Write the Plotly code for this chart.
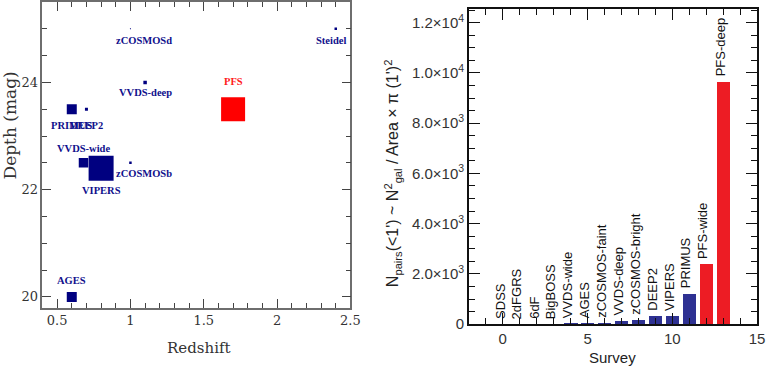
import plotly.graph_objects as go

# ---------------- data: left panel (redshift vs depth) ----------------
surveys_left = ["zCOSMOSd", "Steidel", "VVDS-deep", "PFS", "PRIMUS", "DEEP2",
                "VVDS-wide", "zCOSMOSb", "VIPERS", "AGES"]
redshift = [1.0, 2.4, 1.1, 1.7, 0.6, 0.7, 0.68, 1.0, 0.8, 0.6]
depth = [25.0, 25.0, 24.0, 23.5, 23.5, 23.5, 22.5, 22.5, 22.4, 20.0]
marker_px = [1, 2.5, 3.5, 24, 10, 3, 9.5, 2.5, 25, 10]
left_colors = ["#000080", "#000080", "#000080", "#ff0000", "#000080", "#000080",
               "#000080", "#000080", "#000080", "#000080"]
# label offsets in pixels (style)
lab_dx = [14, -5, 0, 0, 0, 0, 0, 14, 0, 0]
lab_dy = [-12, -12, -10, 28, -16, -16, 14, -11, -22, 16]

# ---------------- data: right panel (pair counts) ----------------
survey_idx = list(range(14))
survey_names = ["SDSS", "2dFGRS", "6dF", "BigBOSS", "VVDS-wide", "AGES",
                "zCOSMOS-faint", "VVDS-deep", "zCOSMOS-bright", "DEEP2",
                "VIPERS", "PRIMUS", "PFS-wide", "PFS-deep"]
npairs = [0, 0, 0, 0, 20, 20, 35, 140, 190, 330, 340, 1220, 2400, 9650]
bar_colors = ["#2e3192"] * 12 + ["#ed1c24"] * 2

ytick_vals = [0, 2000, 4000, 6000, 8000, 10000, 12000]
ytick_text = ["0", "2.0×10<sup>3</sup>", "4.0×10<sup>3</sup>", "6.0×10<sup>3</sup>",
              "8.0×10<sup>3</sup>", "1.0×10<sup>4</sup>", "1.2×10<sup>4</sup>"]

W, H = 775, 374
SERIF = "DejaVu Serif"
LSERIF = "Liberation Serif"
SANS = "Liberation Sans, Arial, sans-serif"

fig = go.Figure()

fig.add_trace(go.Scatter(
    x=redshift, y=depth, mode="markers",
    marker=dict(symbol="square", size=marker_px, color=left_colors, opacity=1, line=dict(width=0)),
    xaxis="x", yaxis="y", showlegend=False, hoverinfo="skip"))

fig.add_trace(go.Bar(
    x=survey_idx, y=npairs, width=0.8, marker=dict(color=bar_colors, line=dict(width=0)),
    xaxis="x2", yaxis="y2", showlegend=False))

annotations = []
for name, xv, yv, c, dx, dy in zip(surveys_left, redshift, depth, left_colors, lab_dx, lab_dy):
    annotations.append(dict(x=xv, y=yv, xref="x", yref="y", text="<b>" + name + "</b>", showarrow=False,
                            xshift=dx, yshift=dy, xanchor="center", yanchor="middle",
                            font=dict(family=LSERIF, size=10.5, color="#10108c" if c != "#ff0000" else "#ff1a1a")))

for xi, name, v in zip(survey_idx, survey_names, npairs):
    annotations.append(dict(x=xi, y=v, xref="x2", yref="y2", text=name, showarrow=False,
                            textangle=-90, xanchor="center", yanchor="bottom",
                            xshift=-3, yshift=3,
                            font=dict(family=SANS, size=13, color="#111111")))

# axis titles
annotations += [
    dict(x=202 / W, y=1 - 355 / H, xref="paper", yref="paper", text="Redshift", showarrow=False,
         xanchor="center", yanchor="middle", font=dict(family=SERIF, size=15, color="#333")),
    dict(x=10 / W, y=1 - 127 / H, xref="paper", yref="paper", text="Depth (mag)", showarrow=False,
         textangle=-90, xanchor="center", yanchor="middle", font=dict(family=SERIF, size=17, color="#333")),
    dict(x=620 / W, y=1 - 365 / H, xref="paper", yref="paper", text="Survey", showarrow=False,
         xanchor="center", yanchor="middle", font=dict(family=SANS, size=15, color="#222")),
    dict(x=398 / W, y=1 - 176 / H, xref="paper", yref="paper",
         text="N<sub>pairs</sub>(&lt;1') ~ N<sup>2</sup><sub>gal</sub> / Area × π (1')<sup>2</sup>",
         showarrow=False, textangle=-90, xanchor="center", yanchor="middle",
         font=dict(family=SANS, size=16, color="#222")),
]

left_axis_common = dict(showgrid=False, zeroline=False, showline=True, mirror="allticks",
                        linecolor="#6e6e6e", linewidth=1.5, ticks="inside", tickcolor="#444",
                        tickwidth=1.2, tickfont=dict(family=SERIF, size=13, color="#333"))
right_axis_common = dict(showgrid=False, zeroline=False, showline=True, mirror="allticks",
                         linecolor="#111", linewidth=1.5, ticks="inside", tickcolor="#111",
                         tickwidth=1.2, tickfont=dict(family=SANS, size=15, color="#333"),
                         ticklabeloverflow="allow")

fig.update_layout(
    width=W, height=H, margin=dict(l=0, r=0, t=0, b=0),
    paper_bgcolor="white", plot_bgcolor="white", bargap=0,
    xaxis=dict(domain=[43 / W, 355 / W], range=[0.4, 2.5], anchor="y",
               tickvals=[0.5, 1, 1.5, 2, 2.5], ticktext=["0.5", "1", "1.5", "2", "2.5"], ticklen=9,
               minor=dict(dtick=0.1, tick0=0, ticks="inside", ticklen=5, tickcolor="#444"),
               **left_axis_common),
    yaxis=dict(domain=[1 - 314 / H, 1.0], range=[19.8, 25.5], anchor="x",
               tickvals=[20, 22, 24], ticklen=9,
               minor=dict(dtick=0.5, tick0=0, ticks="inside", ticklen=5, tickcolor="#444"),
               **left_axis_common),
    xaxis2=dict(domain=[475 / W, 767 / W], range=[-2, 15], anchor="y2",
                tickvals=[0, 5, 10, 15], ticklen=11,
                minor=dict(dtick=1, tick0=0, ticks="inside", ticklen=6, tickcolor="#111"),
                **right_axis_common),
    yaxis2=dict(domain=[1 - 331 / H, 1 - 7 / H], range=[0, 12550], anchor="x2",
                tickvals=ytick_vals, ticktext=ytick_text, ticklen=11,
                minor=dict(dtick=500, tick0=0, ticks="inside", ticklen=6, tickcolor="#111"),
                **right_axis_common),
    annotations=annotations,
)

fig.write_html("out.html", config={"displayModeBar": False},
               post_script="document.body.style.margin='0';document.body.style.overflow='hidden';")
